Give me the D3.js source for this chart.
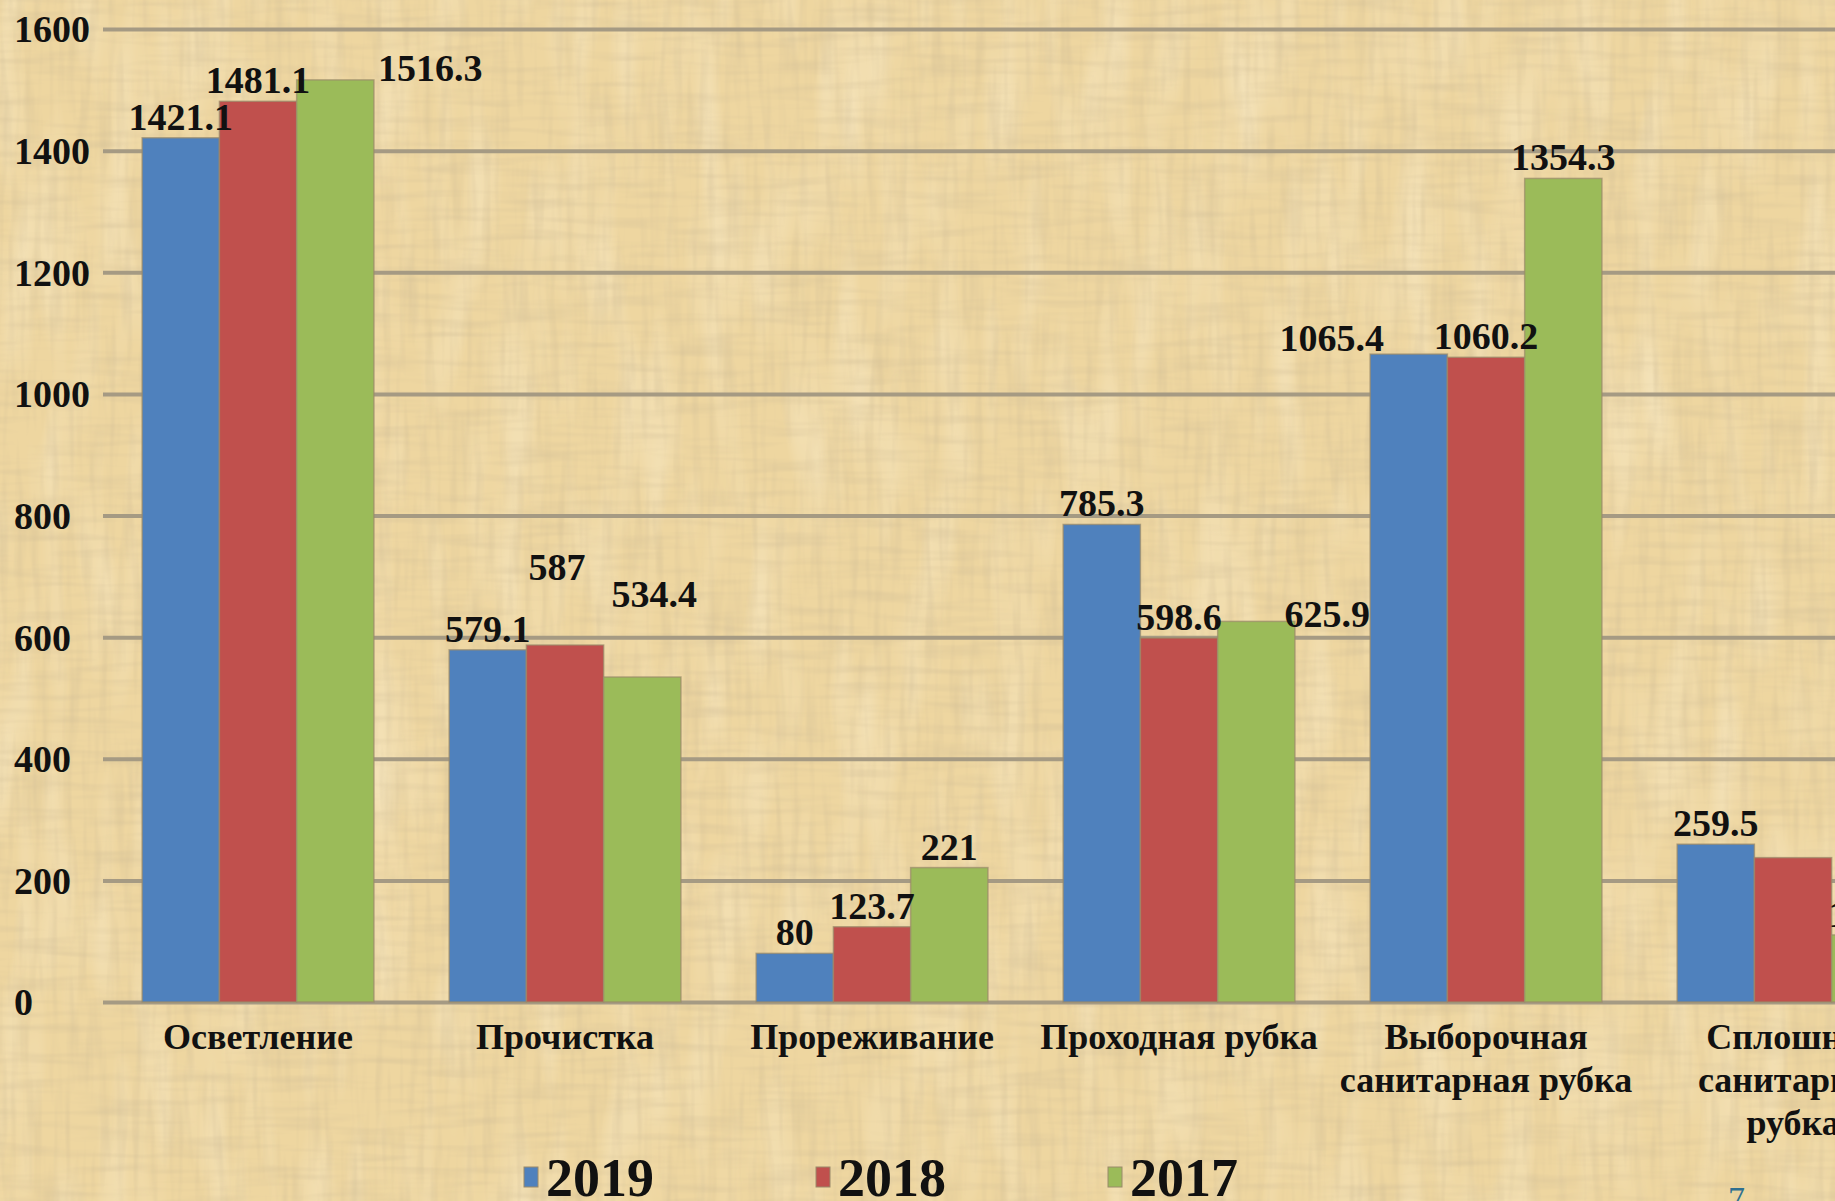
<!DOCTYPE html>
<html>
<head>
<meta charset="utf-8">
<script src="https://cdn.jsdelivr.net/npm/d3@7"></script>
<style>
  html, body { margin: 0; padding: 0; overflow: hidden; background: #eed6a0; }
  svg { display: block; }
  text { font-family: "Liberation Serif", "DejaVu Serif", serif; }
</style>
</head>
<body>
<div id="chart"></div>
<script>

// categories (line breaks as in the picture)
var categories = ['Осветление', 'Прочистка', 'Прореживание', 'Проходная рубка', 'Выборочная|санитарная рубка', 'Сплошная|санитарная|рубка']
var years = ['2019', '2018', '2017']

var values2019 = [1421.1, 579.1, 80, 785.3, 1065.4, 259.5]
var values2018 = [1481.1, 587, 123.7, 598.6, 1060.2, 237.4]
var values2017 = [1516.3, 534.4, 221, 625.9, 1354.3, 110.3]

var yTicks = [0, 200, 400, 600, 800, 1000, 1200, 1400, 1600]

var colors = {'2019': '#4f81bd', '2018': '#c0504d', '2017': '#9bbb59'}

// labels that were dragged by hand in the original
var labelNudge = {
    '0|2017': [95, 9],
    '1|2018': [-8, -57],
    '1|2017': [12, -62],
    '3|2017': [71, 14],
    '4|2019': [-77, 5],
    '5|2018': [100, 9]
}

var W = 1835, H = 1201
var left = 103, step = 307

var svg = d3.select('#chart').append('svg')
    .attr('width', W)
    .attr('height', H)

// papyrus background
var defs = svg.append('defs')

function fibres(id, freq, seed, matrix) {
    var f = defs.append('filter').attr('id', id)
        .attr('x', 0).attr('y', 0).attr('width', '100%').attr('height', '100%')
    f.append('feTurbulence')
        .attr('type', 'fractalNoise')
        .attr('baseFrequency', freq)
        .attr('numOctaves', 2)
        .attr('seed', seed)
    f.append('feColorMatrix').attr('type', 'matrix').attr('values', matrix)
}
fibres('fibV', '0.12 0.012', 3, '0 0 0 0 0.62  0 0 0 0 0.50  0 0 0 0 0.30  0.8 0 0 0 -0.36')
fibres('fibH', '0.012 0.12', 7, '0 0 0 0 0.62  0 0 0 0 0.50  0 0 0 0 0.30  0.8 0 0 0 -0.36')
fibres('fibL', '0.03 0.006', 11, '0 0 0 0 1  0 0 0 0 0.95  0 0 0 0 0.80  0.7 0 0 0 -0.3')

svg.append('rect').attr('width', W).attr('height', H).attr('fill', '#eed6a0')
svg.append('rect').attr('width', W).attr('height', H).attr('filter', 'url(#fibL)')
svg.append('rect').attr('width', W).attr('height', H).attr('filter', 'url(#fibV)')
svg.append('rect').attr('width', W).attr('height', H).attr('filter', 'url(#fibH)')

// scales
var y = d3.scaleLinear()
    .domain([0, 1600])
    .range([1002, 29])

var x0 = d3.scaleBand()
    .domain(d3.range(categories.length))
    .range([left, left + step * (categories.length + 0.01)])
    .paddingInner(0.245)
    .paddingOuter(0.1275)

var x1 = d3.scaleBand()
    .domain(years)
    .range([0, x0.bandwidth()])

// gridlines + y labels
var yAxis = d3.axisLeft(y)
    .tickValues(yTicks)
    .tickFormat(d3.format('d'))
    .tickSize(-(W - left))

var gAxis = svg.append('g')
    .attr('transform', 'translate(' + left + ',0)')
    .call(yAxis)
gAxis.select('.domain').remove()
gAxis.selectAll('.tick line')
    .attr('stroke', '#a59a83')
    .attr('stroke-width', 4)
gAxis.selectAll('.tick text')
    .attr('x', -89)
    .attr('text-anchor', 'start')
    .attr('dy', '0.34em')
    .attr('fill', '#111')
    .style('font-size', '38px')
    .style('font-weight', 'bold')

// bars
var rows = []
categories.forEach(function(c, i) {
    rows.push({i: i, year: '2019', value: values2019[i]})
    rows.push({i: i, year: '2018', value: values2018[i]})
    rows.push({i: i, year: '2017', value: values2017[i]})
})

svg.append('g').selectAll('rect')
    .data(rows)
    .enter().append('rect')
    .attr('x', function(d) { return x0(d.i) + x1(d.year) })
    .attr('y', function(d) { return y(d.value) })
    .attr('width', x1.bandwidth())
    .attr('height', function(d) { return y(0) - y(d.value) })
    .attr('fill', function(d) { return colors[d.year] })
    .attr('stroke', '#9a8a6a')
    .attr('stroke-opacity', 0.7)
    .attr('stroke-width', 1.5)

// value labels
svg.append('g').selectAll('text')
    .data(rows)
    .enter().append('text')
    .attr('x', function(d) {
        var n = labelNudge[d.i + '|' + d.year]
        return x0(d.i) + x1(d.year) + x1.bandwidth() / 2 + (n ? n[0] : 0)
    })
    .attr('y', function(d) {
        var n = labelNudge[d.i + '|' + d.year]
        return y(d.value) - 8 + (n ? n[1] : 0)
    })
    .attr('text-anchor', 'middle')
    .attr('fill', '#111')
    .style('font-size', '38px')
    .style('font-weight', 'bold')
    .text(function(d) { return d.value })

// category labels
var catG = svg.append('g').selectAll('text')
    .data(categories)
    .enter().append('text')
    .attr('x', function(d, i) { return x0(i) + x0.bandwidth() / 2 })
    .attr('y', 1049)
    .attr('text-anchor', 'middle')
    .attr('fill', '#111')
    .style('font-size', '36px')
    .style('font-weight', 'bold')

catG.each(function(d, i) {
    var t = d3.select(this)
    var cx = x0(i) + x0.bandwidth() / 2
    d.split('|').forEach(function(line, k) {
        t.append('tspan')
            .attr('x', cx)
            .attr('dy', k === 0 ? 0 : 43)
            .text(line)
    })
})

// legend
var legend = svg.append('g').selectAll('g')
    .data(years)
    .enter().append('g')
    .attr('transform', function(d, i) { return 'translate(' + (524 + i * 292) + ',0)' })

legend.append('rect')
    .attr('y', 1167)
    .attr('width', 14)
    .attr('height', 20)
    .attr('fill', function(d) { return colors[d] })
    .attr('stroke', '#9a8a6a')
    .attr('stroke-width', 1)

legend.append('text')
    .attr('x', 22)
    .attr('y', 1196)
    .attr('fill', '#111')
    .style('font-size', '54px')
    .style('font-weight', 'bold')
    .text(function(d) { return d })

// slide number
svg.append('text')
    .attr('x', 1728)
    .attr('y', 1210)
    .attr('fill', '#2f6f90')
    .style('font-size', '34px')
    .text('7')

</script>
</body>
</html>
